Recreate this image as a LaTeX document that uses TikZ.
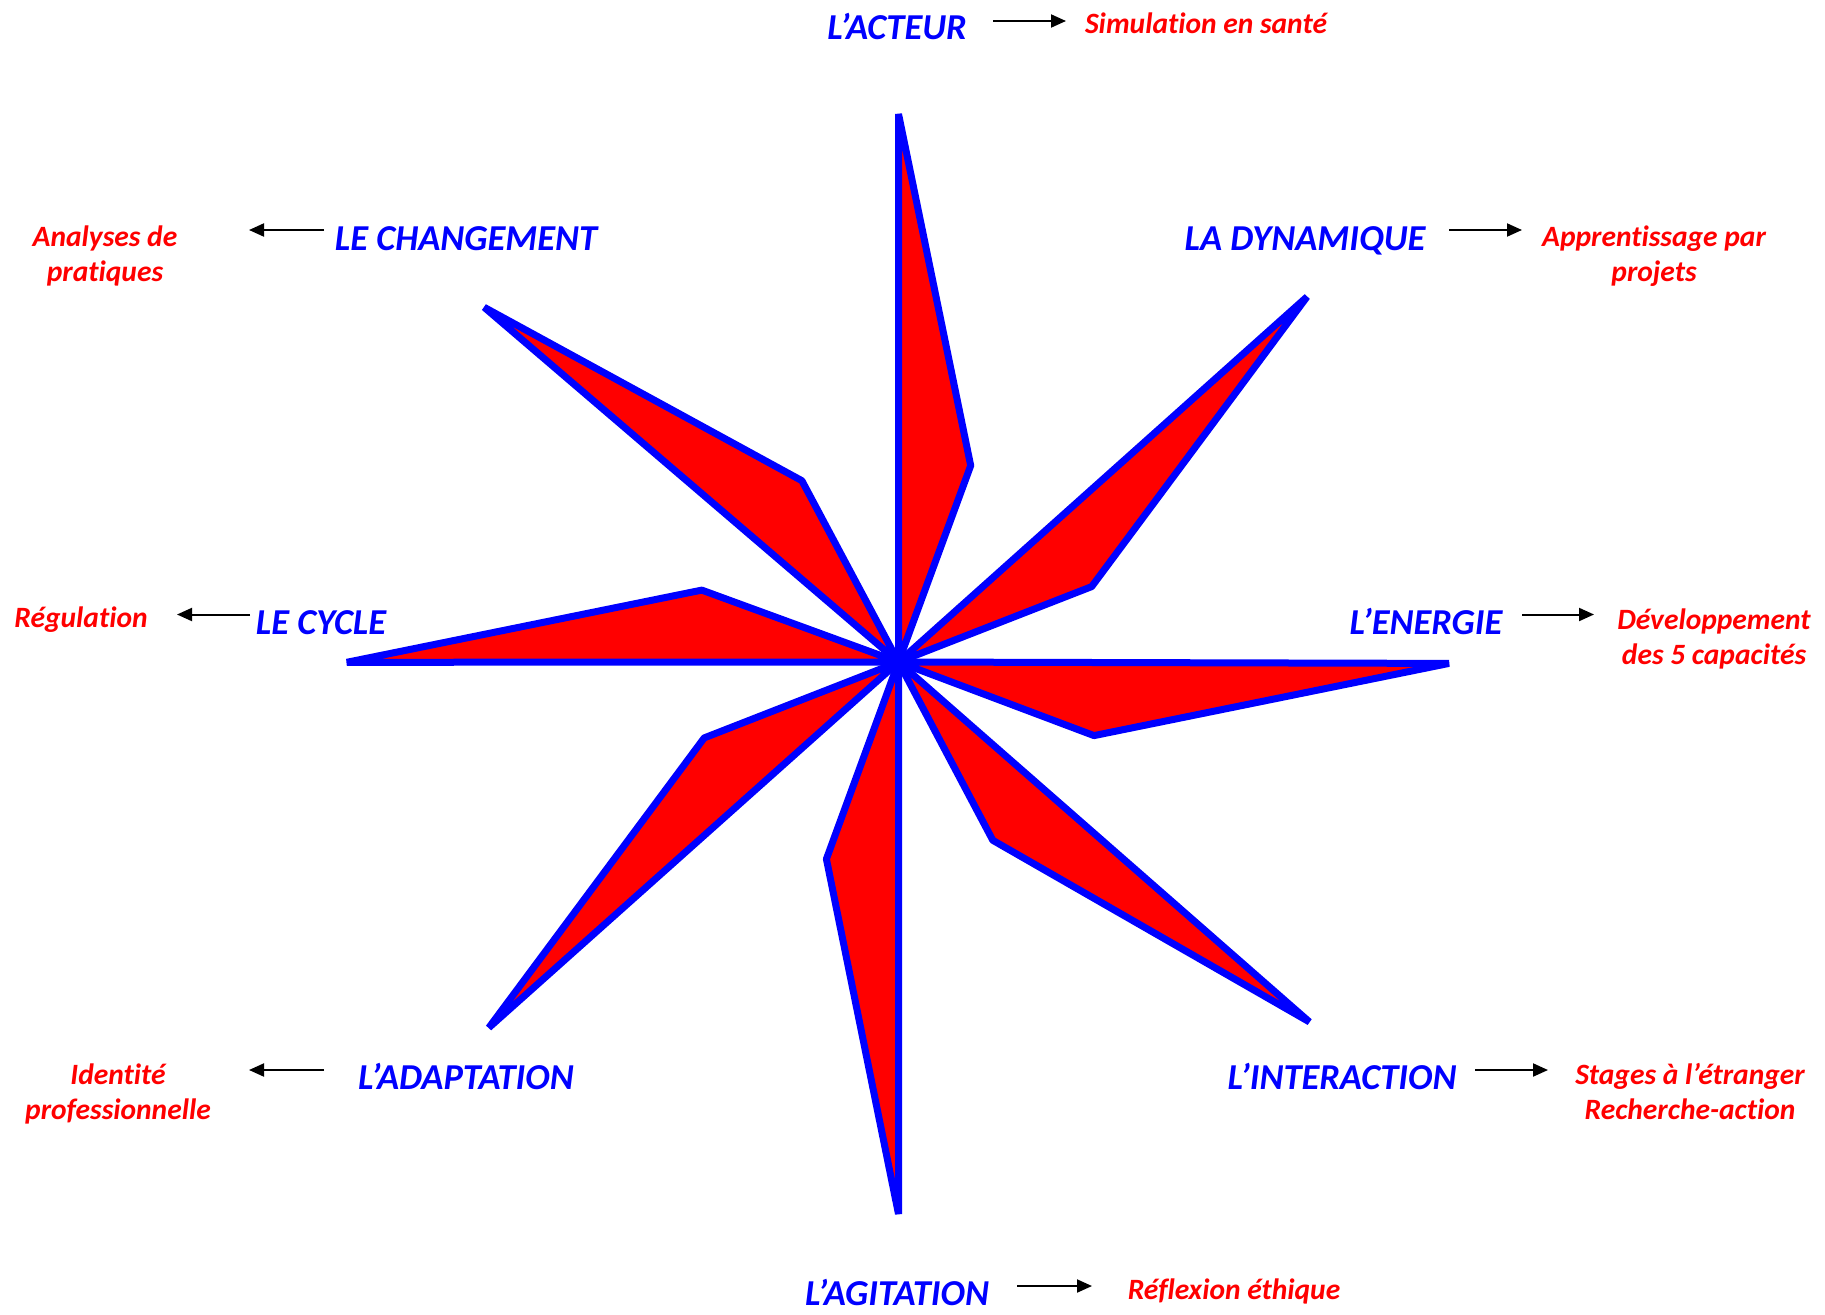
\documentclass[tikz,border=0pt]{standalone}
\usepackage{fontspec}
\setmainfont[Ligatures=NoCommon]{Carlito}
\usetikzlibrary{arrows.meta}
\begin{document}
\begin{tikzpicture}[x=1pt,y=-1pt,
 spike/.style={fill=red,draw=blue,line width=7pt,line join=bevel},
 key/.style={text=blue,font=\fontsize{36.5}{42}\selectfont\bfseries\itshape,anchor=base,inner sep=0pt},
 ex/.style={text=red,font=\fontsize{29.5}{35}\selectfont\bfseries\itshape,anchor=base,inner sep=0pt,align=center},
 arr/.style={-{Triangle[length=15pt,width=13pt]},line width=2pt}]
\useasboundingbox (0,0) rectangle (1825,1314);
\coordinate (c) at (898.5,662);
% spikes
\draw[spike] (c) -- (898.5,114) -- (970.7,465.6) -- cycle;
\draw[spike] (c) -- (1307,296.8) -- (1091.7,586.6) -- cycle;
\draw[spike] (c) -- (1449,663.4) -- (1094,735.6) -- cycle;
\draw[spike] (c) -- (1309.4,1021.9) -- (992.8,840.3) -- cycle;
\draw[spike] (c) -- (898.5,1214) -- (826.4,859) -- cycle;
\draw[spike] (c) -- (488.8,1027.7) -- (704.2,737.9) -- cycle;
\draw[spike] (c) -- (346.8,662.3) -- (701.8,590.1) -- cycle;
\draw[spike] (c) -- (484.2,307.3) -- (801.9,480.7) -- cycle;
% key labels
\node[key] (acteur) at (897,40) {L’ACTEUR};
\node[key] (chang) at (466,250) {LE CHANGEMENT};
\node[key] (dyn) at (1305,250) {LA DYNAMIQUE};
\node[key] (cycle) at (321,634) {LE CYCLE};
\node[key] (energ) at (1426,634) {L’ENERGIE};
\node[key] (adapt) at (466,1089) {L’ADAPTATION};
\node[key] (inter) at (1342,1089) {L’INTERACTION};
\node[key] (agit) at (897,1305) {L’AGITATION};
% examples
\node[ex] (simu) at (1206,34) {Simulation en santé};
\node[ex] (analy) at (105,281) {Analyses de\\pratiques};
\node[ex] (appr) at (1654,281) {Apprentissage par\\projets};
\node[ex] (regul) at (81,627) {Régulation};
\node[ex] (devel) at (1714,664) {Développement\\des 5 capacités};
\node[ex] (ident) at (118,1119) {Identité\\professionnelle};
\node[ex] (stage) at (1690,1119) {Stages à l’étranger\\Recherche-action};
\node[ex] (refl) at (1234,1299) {Réflexion éthique};
% arrows
\coordinate (a1s) at (993,21);   \coordinate (a1e) at (1066,21);
\coordinate (a2s) at (324,230);  \coordinate (a2e) at (249,230);
\coordinate (a3s) at (1449,230); \coordinate (a3e) at (1522,230);
\coordinate (a4s) at (250,614.5);\coordinate (a4e) at (177,614.5);
\coordinate (a5s) at (1522,614.5);\coordinate (a5e) at (1594,614.5);
\coordinate (a6s) at (324,1070); \coordinate (a6e) at (249,1070);
\coordinate (a7s) at (1475,1070);\coordinate (a7e) at (1548,1070);
\coordinate (a8s) at (1017,1286);\coordinate (a8e) at (1092,1286);
\draw[arr] (a1s) -- (a1e);
\draw[arr] (a2s) -- (a2e);
\draw[arr] (a3s) -- (a3e);
\draw[arr] (a4s) -- (a4e);
\draw[arr] (a5s) -- (a5e);
\draw[arr] (a6s) -- (a6e);
\draw[arr] (a7s) -- (a7e);
\draw[arr] (a8s) -- (a8e);
\end{tikzpicture}
\end{document}
